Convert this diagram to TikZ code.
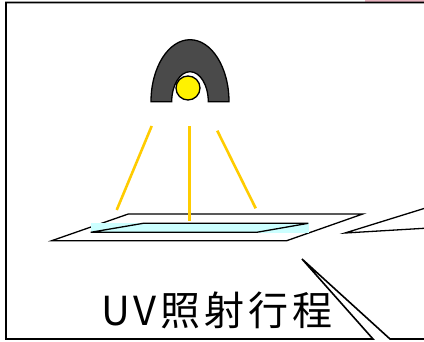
\documentclass[tikz,border=0pt]{standalone}
\usepackage{fontspec}
\newfontfamily\cjk[LetterSpace=10]{Noto Sans CJK JP}
\definecolor{raycol}{HTML}{FFCC00}
\definecolor{filmcol}{HTML}{CCFFFF}
\definecolor{domecol}{HTML}{4A4A4A}
\definecolor{edgepink}{HTML}{E8B4C0}
\begin{document}
\begin{tikzpicture}[x=1pt,y=-1pt,
  frameline/.style={draw=black,line width=1.6pt,line join=miter},
  plateline/.style={draw=black,line width=1.3pt,line join=miter},
  ray/.style={draw=raycol,line width=2.6pt},
  lampline/.style={draw=black,line width=1.3pt}]
\useasboundingbox (0,0) rectangle (424,341);
\fill[white] (0,0) rectangle (424,341);

% neighbouring shape edge along the top
\draw[edgepink,line width=1.5pt] (365,0.8) -- (424,0.8);

% callout frame with its pointer
\path[frameline,fill=white] (424,2.5) -- (6,2.5) -- (6,339) -- (373,339)
  -- (302,259) -- (390,339) -- (424,339);

% pointer of the neighbouring callout
\draw[black,line width=1.3pt,line join=miter] (424,208.5) -- (345,233) -- (424,228.3);

% light rays
\draw[ray] (151.7,126) -- (116.7,210);
\draw[ray] (189.3,126) -- (189.3,221);
\draw[ray] (217.3,130.7) -- (255.7,208.3);

% lamp: dome
\path[lampline,fill=domecol]
  (151,101.7) arc[start angle=180,end angle=0,x radius=39,y radius=-62]
  -- (208.3,101.7) arc[start angle=0,end angle=180,x radius=18.3,y radius=-30]
  -- cycle;
% lamp: bulb
\path[lampline,fill=yellow] (188,88) circle[radius=12];

% substrate plate
\path[plateline] (51.7,240.7) -- (128.3,214) -- (362.7,214) -- (286.7,240.7) -- cycle;
% film on the plate
\fill[filmcol] (90.7,223.3) rectangle (309.3,232.7);
\path[plateline] (90.7,232.3) -- (143.3,223.3) -- (308.3,223.3) -- (256.7,232.3) -- cycle;
\draw[ray] (189.3,200) -- (189.3,221);

% caption
\node[font=\cjk\fontsize{40}{40}\selectfont,inner sep=0pt] (title) at (217,310) {UV照射行程};
\end{tikzpicture}
\end{document}
